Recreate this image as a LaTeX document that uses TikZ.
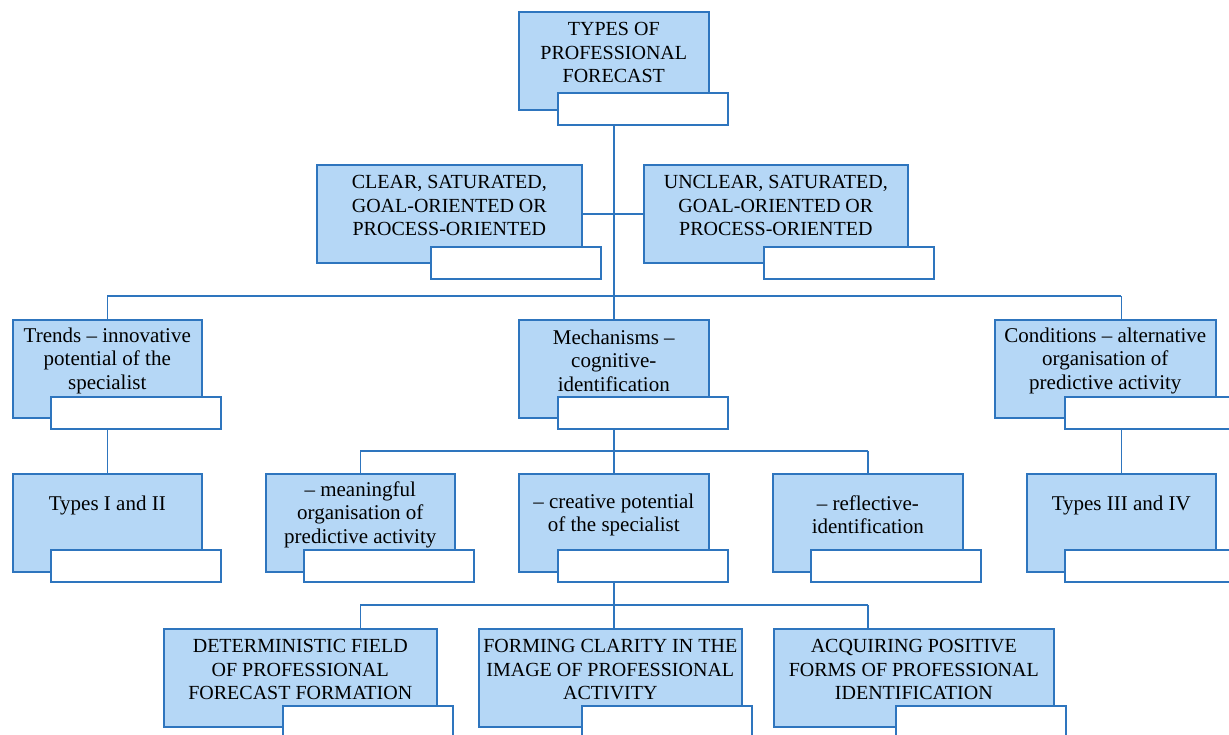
\documentclass[tikz,border=0pt]{standalone}
\usepackage{fontspec}
\setmainfont{Liberation Serif}
\usetikzlibrary{backgrounds}
\definecolor{boxfill}{RGB}{181,215,246}
\definecolor{boxline}{RGB}{46,117,190}
\newcommand{\boxtext}[2]{\parbox[c][98pt][c]{#1}{\centering #2\par\vspace{16pt}}}
\tikzset{
  bluebox/.style = {draw=boxline, fill=boxfill, line width=1.6pt, anchor=north west, inner sep=0pt, font=\fontsize{21}{23.5}\selectfont},
  capsbox/.style = {bluebox, font=\fontsize{20}{23.5}\selectfont},
  whitebox/.style = {draw=boxline, fill=white, line width=1.6pt, anchor=north west, inner sep=0pt, minimum width=170pt, minimum height=32pt},
  link/.style = {draw=boxline, line width=1.4pt}
}

\begin{document}
\begin{tikzpicture}[x=1pt, y=-1pt]
\useasboundingbox (0,0) rectangle (1229,734);
\coordinate (bus1) at (0,296);
\coordinate (bus2) at (0,451);
\coordinate (bus3) at (0,605);

\node[capsbox] (types) at (518,11) {\boxtext{190pt}{TYPES OF\\PROFESSIONAL\\FORECAST}};
\node[whitebox] (typesw) at (557,92) {};

\node[capsbox] (clear) at (316,164) {\boxtext{265pt}{CLEAR, SATURATED,\\GOAL-ORIENTED OR\\PROCESS-ORIENTED}};
\node[whitebox] (clearw) at (430,246) {};
\node[capsbox] (unclear) at (643,164) {\boxtext{264pt}{UNCLEAR, SATURATED,\\GOAL-ORIENTED OR\\PROCESS-ORIENTED}};
\node[whitebox] (unclearw) at (763,246) {};

\node[bluebox] (trends) at (12,319) {\boxtext{189pt}{Trends -- innovative\\potential of the\\specialist}};
\node[whitebox] (trendsw) at (50,396) {};
\node[bluebox] (mech) at (518,319) {\boxtext{190pt}{Mechanisms --\\cognitive-\\identification}};
\node[whitebox] (mechw) at (557,396) {};
\node[bluebox] (cond) at (994,319) {\boxtext{221pt}{Conditions -- alternative\\organisation of\\predictive activity}};
\node[whitebox] (condw) at (1064,396) {};

\node[bluebox] (typesA) at (12,473) {\boxtext{189pt}{Types I and II\\\mbox{}}};
\node[whitebox] (typesAw) at (50,549) {};
\node[bluebox] (mean) at (265,473) {\boxtext{189pt}{-- meaningful\\organisation of\\predictive activity}};
\node[whitebox] (meanw) at (303,549) {};
\node[bluebox] (creat) at (518,473) {\boxtext{190pt}{-- creative potential\\of the specialist}};
\node[whitebox] (creatw) at (557,549) {};
\node[bluebox] (refl) at (772,473) {\boxtext{190pt}{-- reflective-\\identification}};
\node[whitebox] (reflw) at (810,549) {};
\node[bluebox] (typesB) at (1026,473) {\boxtext{189pt}{Types III and IV\\\mbox{}}};
\node[whitebox] (typesBw) at (1064,549) {};

\node[capsbox] (determ) at (163,628) {\boxtext{273pt}{DETERMINISTIC FIELD\\OF PROFESSIONAL\\FORECAST FORMATION}};
\node[whitebox] (determw) at (282,705) {};
\node[capsbox] (forming) at (478,628) {\boxtext{263pt}{FORMING CLARITY IN THE\\IMAGE OF PROFESSIONAL\\ACTIVITY}};
\node[whitebox] (formingw) at (581,705) {};
\node[capsbox] (acquir) at (773,628) {\boxtext{280pt}{ACQUIRING POSITIVE\\FORMS OF PROFESSIONAL\\IDENTIFICATION}};
\node[whitebox] (acquirw) at (895,705) {};

\begin{scope}[on background layer]
\draw[link] (types.south) -- (types.south |- bus1);
\draw[link] (clear.east) -- (unclear.west);
\draw[link] (trends.north |- bus1) -- (typesB.north |- bus1);
\draw[link] (trends.north |- bus1) -- (trends.north);
\draw[link] (mech.north |- bus1) -- (mech.north);
\draw[link] (typesB.north |- bus1) -- (typesB.north |- cond.north);
\draw[link] (trends.south) -- (typesA.north);
\draw[link] (typesB.north |- cond.south) -- (typesB.north);
\draw[link] (mech.south) -- (mech.south |- bus2);
\draw[link] (mean.north |- bus2) -- (refl.north |- bus2);
\foreach \n in {mean, creat, refl}
  \draw[link] (\n.north |- bus2) -- (\n.north);
\draw[link] (creat.south) -- (creat.south |- bus3);
\draw[link] (mean.north |- bus3) -- (refl.north |- bus3);
\draw[link] (mean.north |- bus3) -- (mean.north |- determ.north);
\draw[link] (creat.north |- bus3) -- (creat.north |- forming.north);
\draw[link] (refl.north |- bus3) -- (refl.north |- acquir.north);
\end{scope}
\end{tikzpicture}
\end{document}
